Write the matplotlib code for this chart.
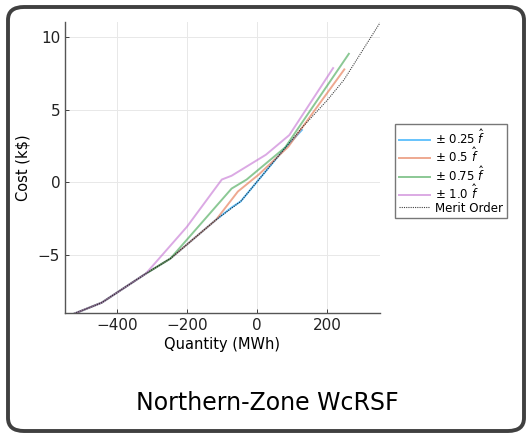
import matplotlib
matplotlib.use("Agg")
import matplotlib.pyplot as plt
from matplotlib.patches import FancyBboxPatch

# ---- data ----
merit_q = [-523, -444, -318, -248, -117, -47, 79, 126, 201, 248, 351]
merit_c = [-9.0, -8.24, -6.25, -5.22, -2.55, -1.3, 2.34, 3.7, 5.66, 7.03, 10.95]

q025 = [-523, -444, -318, -248, -117, -72, -47, 79, 128]
c025 = [-9.0, -8.24, -6.25, -5.22, -2.55, -1.7, -1.3, 2.34, 3.6]

q050 = [-523, -444, -318, -248, -117, -55, 5, 89, 249]
c050 = [-9.0, -8.24, -6.25, -5.22, -2.55, -0.62, 0.55, 2.45, 7.75]

q075 = [-523, -444, -318, -248, -73, -30, 80, 262]
c075 = [-9.0, -8.24, -6.25, -5.22, -0.42, 0.2, 2.4, 8.82]

q100 = [-523, -444, -318, -201, -101, -73, 25, 92, 217]
c100 = [-9.0, -8.24, -6.25, -3.05, 0.2, 0.46, 1.9, 3.25, 7.84]

labels = [r"$\pm$ 0.25 $\hat{f}$", r"$\pm$ 0.5 $\hat{f}$",
          r"$\pm$ 0.75 $\hat{f}$", r"$\pm$ 1.0 $\hat{f}$", "Merit Order"]
colors = ["#009AFA", "#E36F47", "#3EA44E", "#C371D2"]

W, H = 532, 434
fig = plt.figure(figsize=(W / 100, H / 100), dpi=100)
fig.patch.set_facecolor("white")

# rounded border
x0, x1, y0, y1 = 8, 524, 7, 431   # pixels (y from top)
border = FancyBboxPatch((x0 / W, 1 - y1 / H), (x1 - x0) / W, (y1 - y0) / H,
                        boxstyle="round,pad=0,rounding_size=0.03",
                        transform=fig.transFigure, fill=False,
                        edgecolor="#404040", linewidth=2.8, zorder=0)
fig.patches.append(border)

ax = fig.add_axes([65 / W, (H - 313) / H, (380 - 65) / W, (313 - 22) / H])
for q, c, col, lab in zip([q025, q050, q075, q100], [c025, c050, c075, c100], colors, labels[:4]):
    ax.plot(q, c, color=col, alpha=0.6, lw=1.4, label=lab)
ax.plot(merit_q, merit_c, color="black", ls=(0, (1, 1)), lw=0.8, alpha=0.75, label=labels[4])

ax.set_xlim(-549, 351)
ax.set_ylim(-8.95, 11.0)
ax.set_xticks([-400, -200, 0, 200])
ax.set_yticks([-5, 0, 5, 10])
ax.set_xticklabels(["\u2212400", "\u2212200", "0", "200"])
ax.set_yticklabels(["\u22125", "0", "5", "10"])
ax.grid(True, color="#e8e8e8", lw=0.7)
ax.set_axisbelow(True)
for s in ["top", "right"]:
    ax.spines[s].set_visible(False)
for s in ["left", "bottom"]:
    ax.spines[s].set_color("#555555")
    ax.spines[s].set_linewidth(1.0)
ax.tick_params(direction="in", length=3, labelsize=11, colors="#222222", width=0.6)
ax.set_xlabel("Quantity (MWh)", fontsize=10.5, labelpad=3)
ax.set_ylabel("Cost (k$)", fontsize=10.5, labelpad=5)

leg = ax.legend(loc="center left", bbox_to_anchor=(1.03, 0.487), fontsize=8.5,
                frameon=True, fancybox=False, edgecolor="#555555",
                borderpad=0.3, labelspacing=-0.05, handlelength=2.6, handletextpad=0.5)
leg.get_frame().set_linewidth(1.0)

fig.text(267 / W, 1 - 403 / H, "Northern-Zone WcRSF", fontsize=17, ha="center", va="center")

fig.savefig("out.png", dpi=100)
